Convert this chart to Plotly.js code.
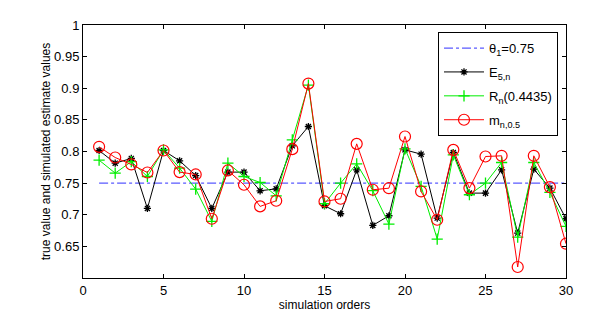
<!DOCTYPE html>
<html>
<head>
<meta charset="utf-8">
<script src="https://cdn.plot.ly/plotly-3.0.1.min.js"></script>
<style>html,body{margin:0;padding:0;background:#fff;}#chart{width:597px;height:316px;}</style>
</head>
<body>
<div id="chart"></div>
<script>
const orders = [1,2,3,4,5,6,7,8,9,10,11,12,13,14,15,16,17,18,19,20,21,22,23,24,25,26,27,28,29,30];
const trueValue = 0.75;
const E5n = [0.8016,0.7816,0.789,0.710,0.8016,0.7853,0.762,0.710,0.7674,0.7674,0.7379,0.741,0.809,0.8395,0.7142,0.7016,0.771,0.6832,0.6984,0.8026,0.7958,0.6947,0.7984,0.7342,0.7342,0.771,0.671,0.7721,0.7421,0.6937];
const Rn = [0.7863,0.7658,0.784,0.7605,0.8026,0.7737,0.7405,0.6895,0.7816,0.7605,0.751,0.730,0.8184,0.905,0.7174,0.75,0.7805,0.738,0.6853,0.8042,0.745,0.6616,0.7947,0.7316,0.75,0.7826,0.6647,0.7826,0.7353,0.6816];
const mn = [0.8074,0.7905,0.7795,0.7668,0.8016,0.7674,0.7637,0.6937,0.770,0.7474,0.7132,0.7221,0.8037,0.9074,0.721,0.7253,0.8121,0.7395,0.742,0.8237,0.7368,0.6921,0.8026,0.7421,0.7921,0.7932,0.6174,0.7932,0.7437,0.6542];
const xTicks = [0,5,10,15,20,25,30];
const yTicks = [0.65,0.7,0.75,0.8,0.85,0.9,0.95,1];
const yTickText = ['0.65','0.7','0.75','0.8','0.85','0.9','0.95','1'];
const names = ['θ<sub>1</sub>=0.75','E<sub>5,n</sub>','R<sub>n</sub>(0.4435)','m<sub>n,0.5</sub>'];

const traces = [
  {x: [orders[0], orders[orders.length-1]], y: [trueValue, trueValue], mode: 'lines', name: names[0], legendgroup: 'a',
   line: {color: '#5a5aff', width: 1.3, dash: 'dashdot'}},
  {x: orders, y: E5n, mode: 'lines+markers', name: names[1], legendgroup: 'b',
   line: {color: '#000000', width: 1}, marker: {symbol: 'asterisk-open', size: 6, color: '#000000', line: {width: 1.3, color: '#000000'}}},
  {x: orders, y: Rn, mode: 'lines+markers', name: names[2], legendgroup: 'c',
   line: {color: '#00ee00', width: 1}, marker: {symbol: 'cross-thin-open', size: 8, color: '#00ee00', line: {width: 1.3, color: '#00ee00'}}},
  {x: orders, y: mn, mode: 'lines+markers', name: names[3], legendgroup: 'd',
   line: {color: '#ff0000', width: 1}, marker: {symbol: 'circle-open', size: 11, color: '#ff0000', line: {width: 1.2, color: '#ff0000'}}}
];

const layout = {
  width: 597, height: 316,
  margin: {l: 83, r: 31, t: 25, b: 38},
  paper_bgcolor: '#ffffff', plot_bgcolor: '#ffffff',
  font: {family: 'Liberation Sans, Arial, sans-serif', size: 13, color: '#000'},
  showlegend: true,
  legend: {x: 0.735, y: 0.972, xanchor: 'left', yanchor: 'top', bgcolor: '#ffffff', bordercolor: '#000', borderwidth: 1,
           font: {size: 13}, tracegroupgap: 4, itemwidth: 40},
  xaxis: {range: [0, 30], tickvals: xTicks, ticktext: xTicks.map(String), ticks: 'inside', ticklen: 4, tickcolor: '#000',
          showline: true, linecolor: '#000', linewidth: 1, mirror: 'ticks', showgrid: false, zeroline: false,
          title: {text: 'simulation orders', font: {size: 12}, standoff: 4}, tickfont: {size: 13}},
  yaxis: {range: [0.6, 1], tickvals: yTicks, ticktext: yTickText, ticks: 'inside', ticklen: 4, tickcolor: '#000',
          showline: true, linecolor: '#000', linewidth: 1, mirror: 'ticks', showgrid: false, zeroline: false,
          title: {text: 'true value and simulated estimate values', font: {size: 12}, standoff: 0}, tickfont: {size: 13}}
};
Plotly.newPlot('chart', traces, layout, {displayModeBar: false, staticPlot: true});
</script>
</body>
</html>
